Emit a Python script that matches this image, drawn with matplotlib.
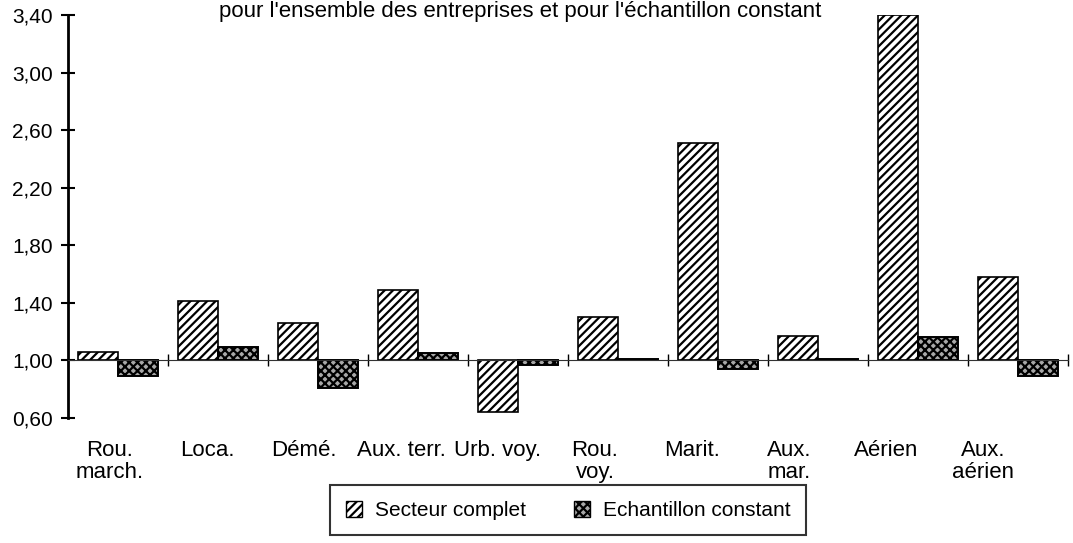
import numpy as np
import matplotlib
matplotlib.use("Agg")
import matplotlib.pyplot as plt
from matplotlib.patches import Patch

plt.rcParams['font.family'] = ['Liberation Sans', 'DejaVu Sans']
plt.rcParams['hatch.linewidth'] = 1.6

categories = ["Rou.\nmarch.", "Loca.", "Démé.", "Aux. terr.", "Urb. voy.",
              "Rou.\nvoy.", "Marit.", "Aux.\nmar.", "Aérien", "Aux.\naérien"]
secteur_complet = [1.06, 1.41, 1.26, 1.49, 0.64, 1.30, 2.51, 1.17, 3.40, 1.58]
echantillon_constant = [0.89, 1.09, 0.81, 1.05, 0.97, 1.01, 0.94, 1.01, 1.16, 0.89]
yticks = [0.60, 1.00, 1.40, 1.80, 2.20, 2.60, 3.00, 3.40]
baseline = 1.00

fig = plt.figure(figsize=(10.73, 5.43), dpi=100)
ax = fig.add_axes([68 / 1073, 1 - 418 / 543, 1000 / 1073, 403 / 543])

x = np.arange(len(categories))
w = 0.4
sc = np.array(secteur_complet) - baseline
ec = np.array(echantillon_constant) - baseline
ax.bar(x + 0.3, sc, w, bottom=baseline, facecolor="white", edgecolor="black",
       hatch="////", linewidth=1.2)
ax.bar(x + 0.7, ec, w, bottom=baseline, facecolor="#a8a8a8", edgecolor="black",
       hatch="xxxx", linewidth=1.4)

ax.set_xlim(0, len(categories))
ax.set_ylim(0.60, 3.40)
ax.set_yticks(yticks)
ax.set_yticklabels([f"{v:.2f}".replace(".", ",") for v in yticks], fontsize=15)
ax.tick_params(axis="y", direction="inout", length=10, width=1.5, pad=6)

for s in ["top", "right"]:
    ax.spines[s].set_visible(False)
ax.spines["left"].set_linewidth(2)
ax.spines["bottom"].set_position(("data", baseline))
ax.spines["bottom"].set_linewidth(0.8)
ax.spines["bottom"].set_color("#333333")
ax.set_xticks(np.arange(1, len(categories) + 1))
ax.set_xticklabels([])
ax.tick_params(axis="x", direction="inout", length=9, width=1.0)

# category labels under the plot
for i, lab in enumerate(categories):
    ax.text(0.42 + 0.97 * i, -0.055, lab, transform=ax.get_xaxis_transform(),
            ha="center", va="top", fontsize=16, linespacing=1.05)

fig.text(520 / 1073, 1 - 12 / 543,
         "pour l'ensemble des entreprises et pour l'échantillon constant",
         ha="center", va="center", fontsize=16)

handles = [Patch(facecolor="white", edgecolor="black", hatch="////"),
           Patch(facecolor="#a8a8a8", edgecolor="black", hatch="xxxx")]
leg = fig.legend(handles, ["Secteur complet", "Echantillon constant"],
                 loc="upper left", bbox_to_anchor=(330 / 1073, 1 - 485 / 543),
                 ncol=2, fontsize=15, frameon=True, fancybox=False,
                 handlelength=0.8, handleheight=0.8, handletextpad=0.6,
                 columnspacing=2.3, borderpad=0.75, borderaxespad=0)
leg.get_frame().set_edgecolor("black")
leg.get_frame().set_linewidth(1.5)

fig.savefig("out.png", dpi=100)
